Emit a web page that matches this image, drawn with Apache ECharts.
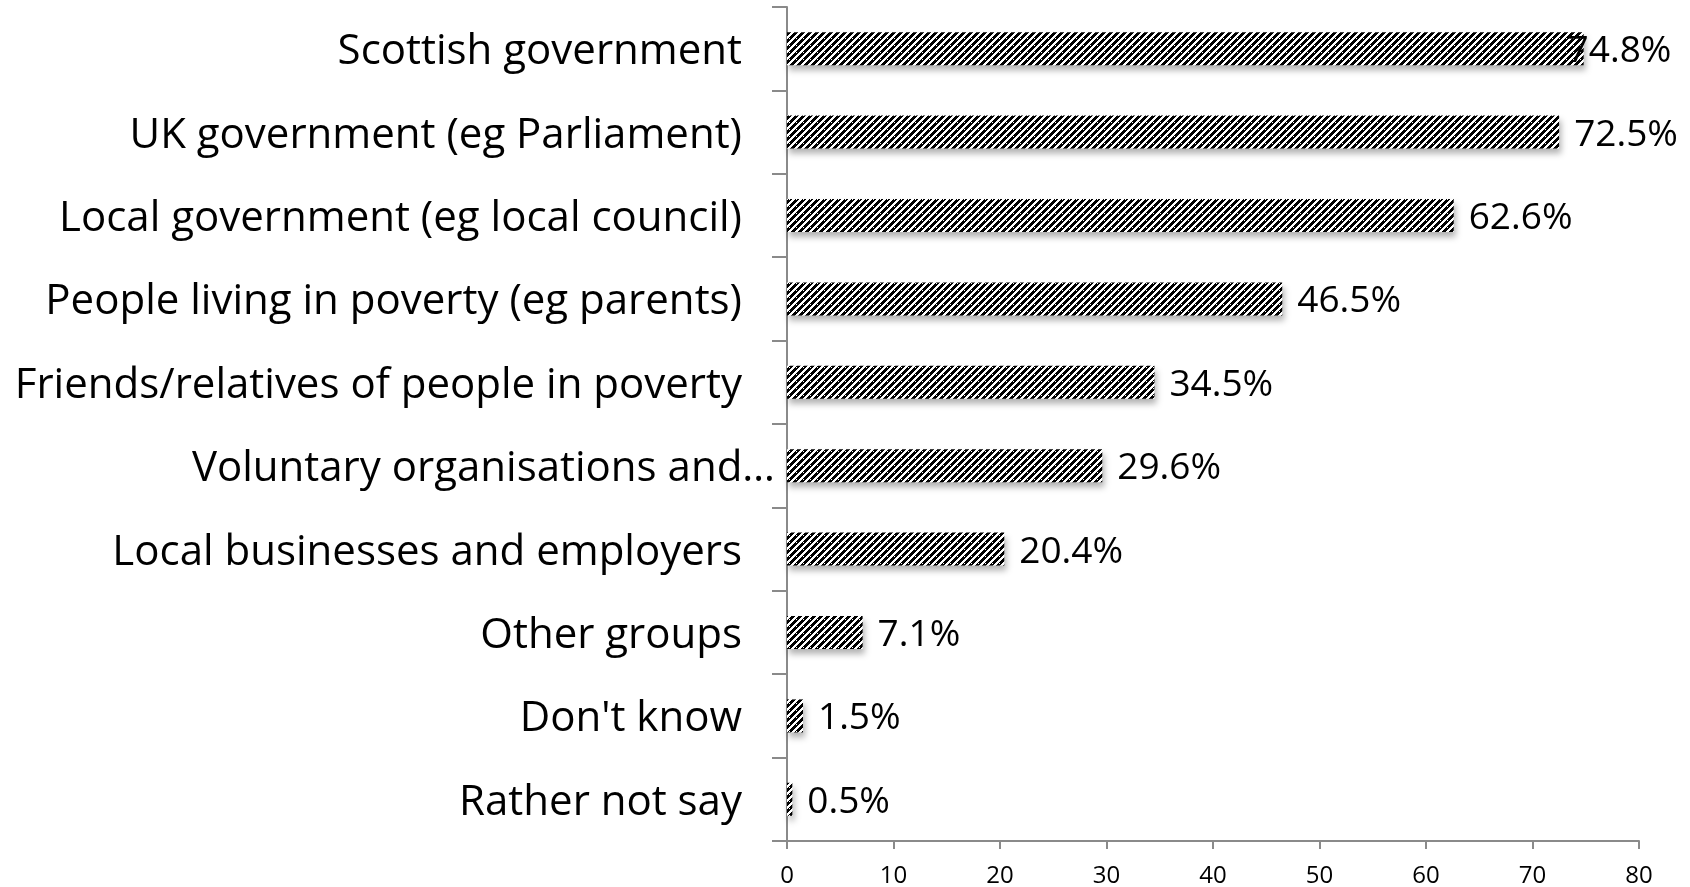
<!DOCTYPE html>
<html>
<head>
<meta charset="utf-8">
<title>Responsibility for tackling poverty</title>
<script src="https://cdn.jsdelivr.net/npm/echarts@6/dist/echarts.min.js"></script>
<style>
  html, body { margin: 0; padding: 0; background: #ffffff; }
  #chart { width: 1690px; height: 887px; }
</style>
</head>
<body>
<div id="chart"></div>
<script>
// Who respondents think should be responsible (percent of respondents)
const categories = [
  'Scottish government',
  'UK government (eg Parliament)',
  'Local government (eg local council)',
  'People living in poverty (eg parents)',
  'Friends/relatives of people in poverty',
  'Voluntary organisations and…',
  'Local businesses and employers',
  'Other groups',
  "Don't know",
  'Rather not say'
];
const percentages = [74.8, 72.5, 62.6, 46.5, 34.5, 29.6, 20.4, 7.1, 1.5, 0.5];
const xTicks = [0, 10, 20, 30, 40, 50, 60, 70, 80];

// Black/white dashed upward-diagonal hatch used as the bar fill
function makeHatch() {
  const size = 7;
  const c = document.createElement('canvas');
  c.width = size; c.height = size;
  const ctx = c.getContext('2d');
  const img = ctx.createImageData(size, size);
  for (let y = 0; y < size; y++) {
    for (let x = 0; x < size; x++) {
      let black = ((x + y) % size) < 4;
      // small breaks along the stripes
      if (black && y === 3 && ((x + y) % size) === 1) black = false;
      const i = (y * size + x) * 4;
      const v = black ? 0 : 255;
      img.data[i] = v; img.data[i + 1] = v; img.data[i + 2] = v; img.data[i + 3] = 255;
    }
  }
  ctx.putImageData(img, 0, 0);
  return c;
}
const hatch = makeHatch();

const FONT = '"Open Sans", "Noto Sans", sans-serif';
const axisGrey = '#8a8a8a';

const chart = echarts.init(document.getElementById('chart'), null, { renderer: 'canvas' });

const seriesData = percentages.map(function (v, i) {
  const item = { value: v };
  // the longest bar's label is pulled back so it stays inside the chart
  if (i === 0) item.label = { offset: [-31, 3] };
  return item;
});

chart.setOption({
  backgroundColor: '#ffffff',
  animation: false,
  grid: { left: 787, right: 51, top: 7, bottom: 46, containLabel: false, outerBoundsMode: 'none' },
  xAxis: {
    type: 'value',
    min: xTicks[0],
    max: xTicks[xTicks.length - 1],
    interval: xTicks[1] - xTicks[0],
    splitLine: { show: false },
    axisLine: { show: true, lineStyle: { color: axisGrey, width: 2 } },
    axisTick: { show: true, length: 8, lineStyle: { color: axisGrey, width: 2 } },
    axisLabel: { color: '#000', fontFamily: FONT, fontSize: 24, margin: 23 }
  },
  yAxis: {
    type: 'category',
    data: categories,
    inverse: true,
    axisLine: { show: true, lineStyle: { color: axisGrey, width: 2 } },
    axisTick: { show: true, length: 15, alignWithLabel: false, lineStyle: { color: axisGrey, width: 2 } },
    axisLabel: {
      color: '#000',
      fontFamily: FONT,
      fontSize: 42,
      margin: 12,
      formatter: function (v) {
        return v.indexOf('…') >= 0 ? '{t|' + v + '}' : '{p|' + v + '}';
      },
      rich: {
        p: { fontFamily: FONT, fontSize: 42, color: '#000', padding: [7, 33, 0, 0] },
        t: { fontFamily: FONT, fontSize: 42, color: '#000', padding: [7, 0, 0, 0] }
      }
    }
  },
  series: [{
    type: 'bar',
    data: seriesData,
    barWidth: 33,
    itemStyle: {
      color: { image: hatch, repeat: 'repeat' },
      shadowColor: 'rgba(0,0,0,0.3)',
      shadowBlur: 6,
      shadowOffsetX: 2,
      shadowOffsetY: 5
    },
    label: {
      show: true,
      position: 'right',
      distance: 15,
      offset: [0, 3],
      color: '#000',
      fontFamily: FONT,
      fontSize: 37,
      formatter: function (p) { return p.value.toFixed(1) + '%'; }
    }
  }]
});
</script>
</body>
</html>
